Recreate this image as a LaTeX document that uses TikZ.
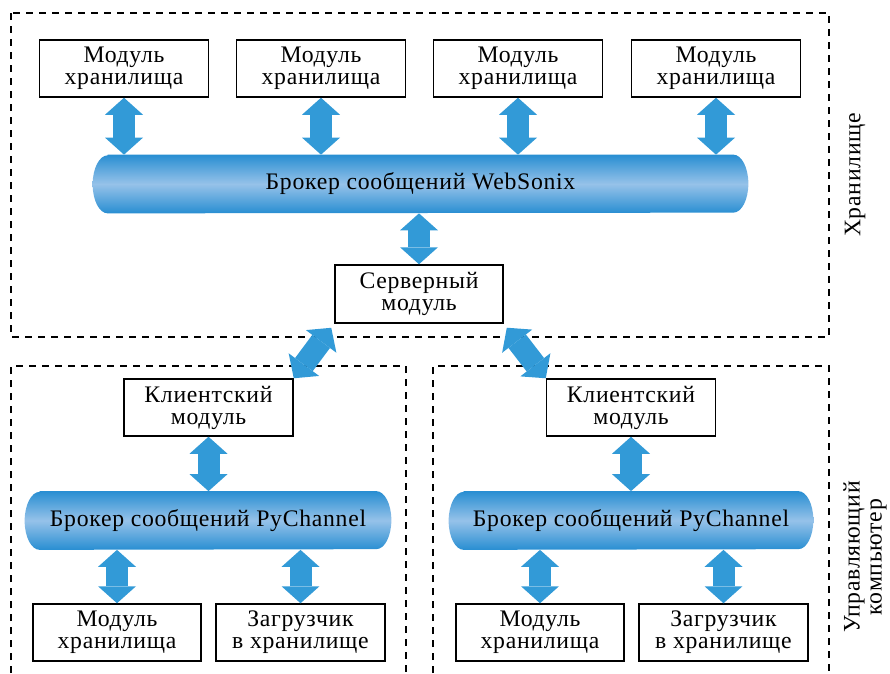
\documentclass[tikz,border=0pt]{standalone}
\usepackage{fontspec}
\setmainfont{Liberation Serif}[LetterSpace=3]
\usetikzlibrary{arrows.meta,backgrounds}

\definecolor{arrowblue}{RGB}{50,154,215}
\definecolor{busdark}{RGB}{40,142,210}
\definecolor{buslight}{RGB}{150,194,233}
\newcommand\lbl{\fontsize{13.5}{12.5}\selectfont}
\newcommand\busfill[1]{%
  \begin{scope}[on background layer]
  \shade[top color=busdark, bottom color=busdark, middle color=buslight]
    ([xshift=3mm]#1.north west) -- ([xshift=-3mm]#1.north east)
    arc[start angle=90, end angle=-90, x radius=3mm, y radius=5.8mm]
    -- ([xshift=3mm]#1.south west)
    arc[start angle=270, end angle=90, x radius=3mm, y radius=5.8mm] -- cycle;
  \end{scope}}

\tikzset{
  box/.style={draw, line width=0.3mm, minimum width=33.8mm, minimum height=11.4mm, inner sep=0pt, align=center, font=\lbl},
  bus/.style={minimum height=11.6mm, inner sep=0pt, font=\lbl},
  bidir/.style={draw=arrowblue, line width=4.4mm, >={Triangle[width=7.6mm,length=3.4mm,line width=0pt]}, <->},
  frame/.style={dash pattern=on 1.4mm off 1.2mm, line width=0.3mm}
}

\begin{document}
\begin{tikzpicture}[x=0.2mm,y=-0.2mm]
\useasboundingbox (0,0) rectangle (890,673);
\draw[frame] (11,13) rectangle (829,337);
\draw[frame] (11,673)--(11,366)--(406,366)--(406,673);
\draw[frame] (433,673)--(433,366)--(829,366)--(829,673);

\node[box] (st1) at (124,68.5) {Модуль\\хранилища};
\node[box] (st2) at (321,68.5) {Модуль\\хранилища};
\node[box] (st3) at (518,68.5) {Модуль\\хранилища};
\node[box] (st4) at (716,68.5) {Модуль\\хранилища};
\node[bus, minimum width=131mm] (web) at (420.5,184) {Брокер сообщений WebSonix};
\busfill{web}
\node[box, minimum width=33.6mm, minimum height=11.6mm] (srv) at (419,294) {Серверный\\модуль};
\foreach \n in {st1,st2,st3,st4}
  \draw[bidir] (\n.south) -- (\n.south |- web.north);
\draw[bidir] (srv.north |- web.south) -- (srv.north);

\node[box] (lcl) at (208.5,407.5) {Клиентский\\модуль};
\node[bus, minimum width=73.2mm] (lpy) at (208,520.5) {Брокер сообщений PyChannel};
\busfill{lpy}
\node[box, minimum width=33.6mm] (lst) at (117,632.5) {Модуль\\хранилища};
\node[box] (lld) at (300.5,632.5) {Загрузчик\\в хранилище};
\draw[bidir] (lcl) -- (lcl.south |- lpy.north);
\draw[bidir] (lst.north |- lpy.south) -- (lst);
\draw[bidir] (lld.north |- lpy.south) -- (lld);

\node[box] (rcl) at (631,407.5) {Клиентский\\модуль};
\node[bus, minimum width=72.8mm] (rpy) at (631,520.5) {Брокер сообщений PyChannel};
\busfill{rpy}
\node[box, minimum width=33.6mm] (rst) at (540,632.5) {Модуль\\хранилища};
\node[box] (rld) at (723.5,632.5) {Загрузчик\\в хранилище};
\draw[bidir] (rcl) -- (rcl.south |- rpy.north);
\draw[bidir] (rst.north |- rpy.south) -- (rst);
\draw[bidir] (rld.north |- rpy.south) -- (rld);

\draw[bidir, shorten <=1mm] (srv.south west) -- (lcl.north east);
\draw[bidir, shorten <=1mm] (srv.south east) -- (rcl.north west);

\node[rotate=90, font=\lbl] (lstore) at (855,175) {Хранилище};
\node[rotate=90, font=\lbl, align=center] (lctrl) at (865,557) {Управляющий\\компьютер};
\end{tikzpicture}
\end{document}
